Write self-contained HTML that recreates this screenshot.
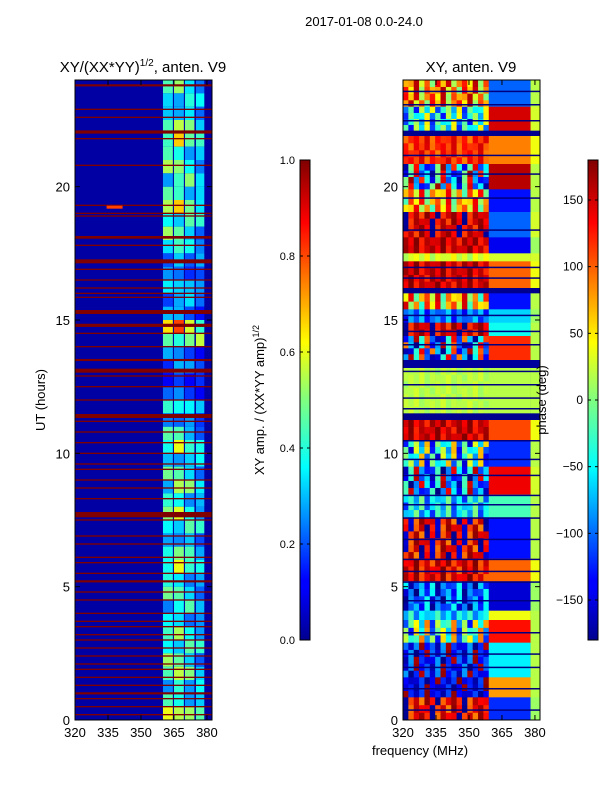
<!DOCTYPE html>
<html><head><meta charset="utf-8"><style>
body{margin:0;background:#fff;width:600px;height:800px;overflow:hidden;font-family:"Liberation Sans",sans-serif}
svg text{font-family:"Liberation Sans",sans-serif;fill:#000}
</style></head><body>
<svg id="s" width="600" height="800" xmlns="http://www.w3.org/2000/svg">
<defs>
<linearGradient id="jet" x1="0" y1="1" x2="0" y2="0">
<stop offset="0" stop-color="#00008f"/><stop offset="0.11" stop-color="#0000ff"/><stop offset="0.125" stop-color="#0000ff"/>
<stop offset="0.36" stop-color="#00ffff"/><stop offset="0.5" stop-color="#80ff80"/><stop offset="0.62" stop-color="#ffff00"/>
<stop offset="0.87" stop-color="#ff0000"/><stop offset="1" stop-color="#800000"/>
</linearGradient>
</defs>
<text x="364" y="26" font-size="13" text-anchor="middle">2017-01-08 0.0-24.0</text>
<text x="143" y="72" font-size="15" text-anchor="middle">XY/(XX*YY)<tspan font-size="10" dy="-6">1/2</tspan><tspan dy="6">, anten. V9</tspan></text>
<text x="471" y="72" font-size="15" text-anchor="middle">XY, anten. V9</text>
<text x="45" y="400" font-size="13" text-anchor="middle" transform="rotate(-90 45 400)">UT (hours)</text>
<text x="264" y="400" font-size="13" text-anchor="middle" transform="rotate(-90 264 400)">XY amp. / (XX*YY amp)<tspan font-size="9" dy="-5">1/2</tspan></text>
<g id="L"></g><g id="R"></g><g id="C"></g>
<text x="546" y="400" font-size="13" text-anchor="middle" transform="rotate(-90 546 400)">phase (deg)</text>
<text x="420" y="755" font-size="13" text-anchor="middle">frequency (MHz)</text>
</svg>
<script>
const ns="http://www.w3.org/2000/svg";
const svg=document.getElementById('s');
// ---- data ----
const yTicks=[0,5,10,15,20];
const xTicks=[320,335,350,365,380];
const ampTicks=[0.0,0.2,0.4,0.6,0.8,1.0];
const phaseTicks=[-150,-100,-50,0,50,100,150];
const leftRfiLines=[23.8,22.9,22.6,22.05,21.8,20.8,19.3,19.0,18.9,18.1,17.8,17.2,16.9,16.5,16.2,16.0,15.85,15.3,14.8,14.5,14.0,13.5,13.1,12.9,12.5,12.0,11.4,11.2,10.8,10.4,10.0,9.6,9.4,9.0,8.7,8.3,7.7,7.5,6.9,6.6,6.1,5.9,5.5,5.2,4.8,4.5,4.0,3.7,3.5,3.2,3.0,2.7,2.4,2.1,1.9,1.6,1.3,1.0,0.8,0.5,0.2];
const leftRfiWidth=[0.08,0.05,0.05,0.12,0.05,0.05,0.05,0.05,0.05,0.1,0.05,0.15,0.05,0.05,0.05,0.05,0.05,0.15,0.12,0.05,0.05,0.08,0.15,0.05,0.05,0.05,0.15,0.05,0.05,0.05,0.05,0.05,0.05,0.05,0.05,0.05,0.2,0.05,0.05,0.05,0.05,0.05,0.05,0.08,0.05,0.05,0.05,0.05,0.05,0.05,0.05,0.05,0.05,0.05,0.05,0.05,0.05,0.08,0.05,0.05,0.05];
const brightHourLevel=[0.5,0.45,0.45,0.4,0.4,0.45,0.4,0.45,0.45,0.4,0.45,0.35,0.2,0.25,0.6,0.3,0.3,0.35,0.45,0.5,0.45,0.5,0.45,0.4];
const brightCols=[[360,364.5,0.9],[365,369.5,1.0],[370,374.3,0.85],[375,378.8,0.7]];
// [t0, t1, phase 320-359 MHz, phase 359-378 MHz, phase 378-382 MHz, mixing amplitude]
const phaseBlocks=[
[23.0,24,80,-100,20,80],[22.1,23.0,-40,150,30,90],[21.9,22.1,-175,-175,-175,0],
[20.85,21.9,120,90,40,30],[19.9,20.85,-120,160,20,120],[19.05,19.9,60,-130,20,80],
[18.1,19.05,150,-100,30,40],[17.5,18.1,150,-140,10,30],[17.2,17.5,30,30,30,20],
[16.2,17.2,150,100,40,30],[16.0,16.2,-175,-175,-175,0],[15.4,16.0,60,-130,20,90],
[14.9,15.4,-100,-60,10,40],[14.4,14.9,150,-40,20,40],[13.5,14.4,-150,120,20,120],
[13.2,13.5,-170,-170,-170,0],[11.5,13.2,20,20,20,10],[11.25,11.5,-175,-175,-175,0],
[10.5,11.25,150,110,40,30],[9.5,10.5,-40,-120,20,110],[8.45,9.5,-120,140,30,100],
[7.6,8.45,-60,-20,20,60],[6.05,7.6,150,-130,20,60],[5.2,6.05,140,100,40,40],
[4.1,5.2,-110,-150,10,70],[3.75,4.1,-60,40,20,40],[2.9,3.75,-20,130,20,110],
[1.6,2.9,-140,-50,20,60],[0.85,1.6,-150,80,20,40],[0,0.85,140,-120,10,50]];
const phaseSepLines=[23.6,23.1,22.5,21.2,20.5,19.6,18.4,17.0,16.6,15.2,14.6,14.1,13.1,12.6,12.1,11.7,10.5,9.8,9.2,8.45,8.1,7.6,6.8,6.05,5.6,5.2,4.5,3.3,2.5,2.0,1.2,0.4];
const texturePattern=[0,1,-0.6,0.3,-1,0.7,-0.2,0.9,-0.8,0.1,0.6,-0.4,1,-0.9,0.4,-0.1];
// ---- scales ----
const PY0=80,PY1=720;
const yS=t=>PY1-(t/24)*(PY1-PY0);
const xL=f=>75+(f-320)*137/62.3;
const xR=f=>403+(f-320)*137/62.3;
function jet(v){v=Math.max(0,Math.min(1,v));
 const r=Math.max(0,Math.min(1,1.5-Math.abs(4*v-3))),g=Math.max(0,Math.min(1,1.5-Math.abs(4*v-2))),b=Math.max(0,Math.min(1,1.5-Math.abs(4*v-1)));
 return `rgb(${Math.round(r*255)},${Math.round(g*255)},${Math.round(b*255)})`;}
function wrap(p){while(p>180)p-=360;while(p<-180)p+=360;return p;}
function mk(tag,at,parent){const e=document.createElementNS(ns,tag);for(const k in at)e.setAttribute(k,at[k]);(parent||svg).appendChild(e);return e;}
const L=document.getElementById('L'),R=document.getElementById('R'),C=document.getElementById('C');
// ---- left panel ----
let bg=mk('rect',{x:75,y:80,width:137,height:640,fill:jet(0.035)},L);

for(let h=0;h<24;h++){for(let j=0;j<brightCols.length;j++){const c=brightCols[j];
 for(let k=0;k<2;k++){
  const lv=brightHourLevel[h]*c[2]*(1+0.35*texturePattern[(h*3+j*2+k)%16]);
  const e=mk('rect',{x:xL(c[0]),y:yS(h+1-k*0.5),width:xL(c[1])-xL(c[0]),height:(yS(h)-yS(h+1))/2,fill:jet(lv)},L);
  }}}
leftRfiLines.forEach((t,i)=>{const w=leftRfiWidth[i];
 const e=mk('rect',{x:75,y:yS(t+w/2),width:137,height:Math.max(1,yS(t-w/2)-yS(t+w/2)),fill:jet(1)},L);
 });
let sp=mk('rect',{x:xL(338)-8,y:yS(19.25)-1,width:16,height:3,fill:'#ff4000'},L);

// ---- right panel ----
let bg2=mk('rect',{x:403,y:80,width:137,height:640,fill:jet(0.03)},R);

const NC=16;
phaseBlocks.forEach((b,bi)=>{
 const nsub=Math.max(1,Math.round((b[1]-b[0])/0.25));
 for(let s=0;s<nsub;s++){
  const ta=b[0]+(b[1]-b[0])*s/nsub,tb=b[0]+(b[1]-b[0])*(s+1)/nsub;
  for(let i=0;i<NC;i++){
   const f0=320+i*39/NC;
   const p=wrap(b[2]+b[5]*texturePattern[(i+s*5+bi*3)%16]);
   const e=mk('rect',{x:xR(f0),y:yS(tb),width:137*39/62.3/NC+0.3,height:yS(ta)-yS(tb)+0.3,fill:jet((p+180)/360)},R);
   }
 }
 let e=mk('rect',{x:xR(359),y:yS(b[1]),width:xR(378)-xR(359),height:yS(b[0])-yS(b[1])+0.3,fill:jet((b[3]+180)/360)},R);
 
 e=mk('rect',{x:xR(378),y:yS(b[1]),width:540-xR(378),height:yS(b[0])-yS(b[1])+0.3,fill:jet((b[4]+180)/360)},R);
 
});
phaseSepLines.forEach(t=>{const e=mk('rect',{x:403,y:yS(t),width:137,height:1.5,fill:'#000080'},R);
 });
// ---- axes ----
[[75,L,'left'],[403,R,'right']].forEach(([x0,g,n])=>{
 const fr=mk('rect',{x:x0,y:80,width:137,height:640,fill:'none',stroke:'#000','stroke-width':1},g);
 
 yTicks.forEach(t=>{const y=yS(t);
  mk('line',{x1:x0,x2:x0+5,y1:y,y2:y,stroke:'#000'},g);mk('line',{x1:x0+137,x2:x0+132,y1:y,y2:y,stroke:'#000'},g);
  const tx=mk('text',{x:x0-5,y:y+5,'font-size':13,'text-anchor':'end'},g);tx.textContent=t;
  });
 xTicks.forEach(f=>{const x=x0+(f-320)*137/62.3;
  mk('line',{x1:x,x2:x,y1:720,y2:715,stroke:'#000'},g);mk('line',{x1:x,x2:x,y1:80,y2:85,stroke:'#000'},g);
  const tx=mk('text',{x:x,y:737,'font-size':13,'text-anchor':'middle'},g);tx.textContent=f;
  });
});
// ---- colorbars ----
[[300,'amp'],[588,'phase']].forEach(([x,n])=>{
 const e=mk('rect',{x:x,y:160,width:10,height:480,fill:'url(#jet)',stroke:'#000','stroke-width':1},C);
 });
ampTicks.forEach(v=>{const y=640-v*480;
 mk('line',{x1:300,x2:303,y1:y,y2:y,stroke:'#000'},C);mk('line',{x1:310,x2:307,y1:y,y2:y,stroke:'#000'},C);
 const t=mk('text',{x:295,y:y+4,'font-size':11,'text-anchor':'end'},C);t.textContent=v.toFixed(1);
 });
phaseTicks.forEach(v=>{const y=400-v*480/360;
 mk('line',{x1:588,x2:591,y1:y,y2:y,stroke:'#000'},C);mk('line',{x1:598,x2:595,y1:y,y2:y,stroke:'#000'},C);
 const t=mk('text',{x:583,y:y+4,'font-size':12,'text-anchor':'end'},C);t.textContent=v<0?'\u2212'+(-v):v;
 });
</script>
</body></html>
